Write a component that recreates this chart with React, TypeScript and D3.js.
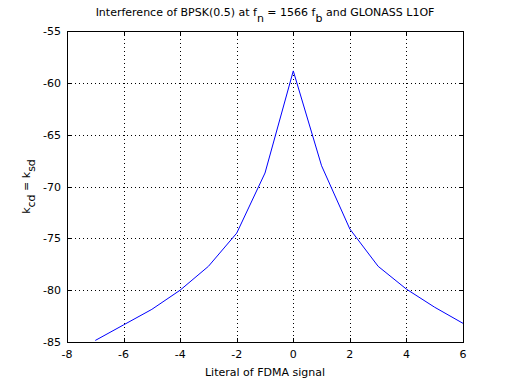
import * as d3 from "d3"
import React from "react"

const literals = [-7, -6, -5, -4, -3, -2, -1, 0, 1, 2, 3, 4, 5, 6]
const kValues = [-84.85, -83.35, -81.85, -80.0, -77.7, -74.5, -68.7, -58.85, -68.0, -74.1, -77.7, -79.9, -81.65, -83.2]
const xTicks = [-8, -6, -4, -2, 0, 2, 4, 6]
const yTicks = [-85, -80, -75, -70, -65, -60, -55]

const width = 512
const height = 384
const margin = { top: 31, right: 49, bottom: 42, left: 67 }
const font = "'DejaVu Sans', sans-serif"

const drawChart = (el: SVGSVGElement) => {
  const svg = d3.select(el)
  svg.selectAll("*").remove()

  const x = d3.scaleLinear([-8, 6], [margin.left, width - margin.right])
  const y = d3.scaleLinear([-85, -55], [height - margin.bottom, margin.top])
  const x0 = margin.left, x1 = width - margin.right
  const y0 = height - margin.bottom, y1 = margin.top

  svg.append("rect").attr("width", width).attr("height", height).attr("fill", "#fff")

  // dotted grid
  const grid = svg.append("g").attr("stroke", "#000").attr("stroke-dasharray", "1,3").attr("stroke-width", 1)
  grid.selectAll("line.gx").data(xTicks.slice(1, -1)).join("line")
    .attr("x1", d => Math.round(x(d)) + 0.5).attr("x2", d => Math.round(x(d)) + 0.5)
    .attr("y1", y1).attr("y2", y0)
  grid.selectAll("line.gy").data(yTicks.slice(1, -1)).join("line")
    .attr("class", "gy")
    .attr("y1", d => Math.round(y(d)) + 0.5).attr("y2", d => Math.round(y(d)) + 0.5)
    .attr("x1", x0).attr("x2", x1)

  // line
  const line = d3.line<number>().x((d, i) => x(literals[i])).y(d => y(d))
  svg.append("path").datum(kValues)
    .attr("fill", "none").attr("stroke", "#0000ff").attr("stroke-width", 1)
    .attr("d", line)

  // box + inward ticks
  const axes = svg.append("g").attr("stroke", "#000").attr("stroke-width", 1)
  axes.append("rect").attr("x", x0 + 0.5).attr("y", y1 + 0.5)
    .attr("width", x1 - x0).attr("height", y0 - y1).attr("fill", "none")
  const tl = 4
  xTicks.forEach(t => {
    const px = Math.round(x(t)) + 0.5
    axes.append("line").attr("x1", px).attr("x2", px).attr("y1", y0).attr("y2", y0 - tl)
    axes.append("line").attr("x1", px).attr("x2", px).attr("y1", y1).attr("y2", y1 + tl)
  })
  yTicks.forEach(t => {
    const py = Math.round(y(t)) + 0.5
    axes.append("line").attr("y1", py).attr("y2", py).attr("x1", x0).attr("x2", x0 + tl)
    axes.append("line").attr("y1", py).attr("y2", py).attr("x1", x1).attr("x2", x1 - tl)
  })

  const txt = svg.append("g").attr("font-family", font).attr("font-size", 11).attr("fill", "#000")
  txt.selectAll("text.xt").data(xTicks).join("text")
    .attr("x", d => x(d)).attr("y", y0 + 16).attr("text-anchor", "middle").text(d => d)
  txt.selectAll("text.yt").data(yTicks).join("text")
    .attr("class", "yt")
    .attr("x", x0 - 6).attr("y", d => y(d) + 4).attr("text-anchor", "end").text(d => d)

  // title
  const title = txt.append("text").attr("x", (x0 + x1) / 2).attr("y", 16).attr("text-anchor", "middle")
  title.append("tspan").text("Interference of BPSK(0.5) at f")
  title.append("tspan").attr("dy", 6).text("n")
  title.append("tspan").attr("dy", -6).text(" = 1566 f")
  title.append("tspan").attr("dy", 6).text("b")
  title.append("tspan").attr("dy", -6).text(" and GLONASS L1OF")

  // x label
  txt.append("text").attr("x", (x0 + x1) / 2).attr("y", y0 + 34).attr("text-anchor", "middle")
    .text("Literal of FDMA signal")

  // y label
  const yl = txt.append("text").attr("transform", `translate(30,${(y0 + y1) / 2}) rotate(-90)`)
    .attr("text-anchor", "middle")
  yl.append("tspan").text("k")
  yl.append("tspan").attr("dy", 5).text("cd")
  yl.append("tspan").attr("dy", -5).text(" = k")
  yl.append("tspan").attr("dy", 5).text("sd")
}

const App = () => {
  const ref = React.useRef<SVGSVGElement>(null)
  React.useEffect(() => {
    if (ref.current) drawChart(ref.current)
  }, [])
  return (
    <svg ref={ref} width={width} height={height}
      style={{ position: "absolute", left: 0, top: 0, display: "block" }} />
  )
}

export default App
